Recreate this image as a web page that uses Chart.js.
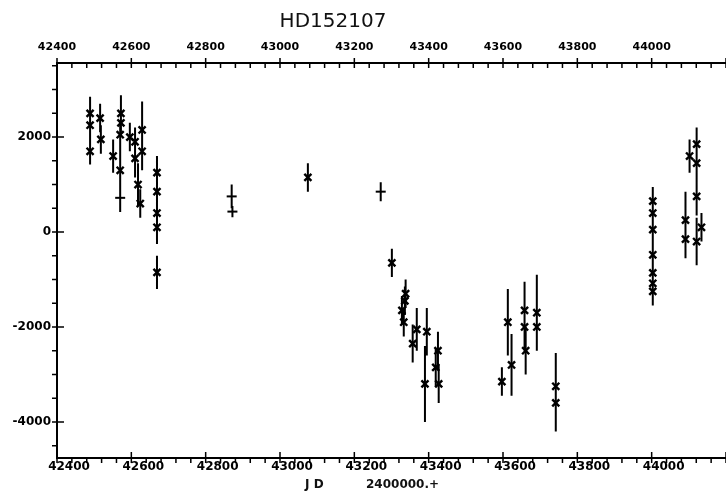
<!DOCTYPE html>
<html>
<head>
<meta charset="utf-8">
<script src="https://cdn.jsdelivr.net/npm/chart.js@4"></script>
<style>
html, body { margin: 0; padding: 0; background: #fff; }
</style>
</head>
<body>
<canvas id="rv" width="726" height="495"></canvas>
<script>
const xTicks = [42400, 42600, 42800, 43000, 43200, 43400, 43600, 43800, 44000]
const yTicks = [2000, 0, -2000, -4000]

// asterisk points: JD - 2400000, radial velocity, error half-length
const starJd = [42489, 42489, 42489, 42516, 42518, 42551, 42572, 42572, 42570, 42570, 42596,
    42610, 42610, 42618, 42629, 42629, 42624, 42669, 42669, 42669, 42669, 42669,
    43075,
    43301, 43338, 43336, 43328, 43333, 43368, 43357, 43395, 43390, 43425, 43419, 43427,
    43597, 43623, 43613, 43658, 43658, 43661, 43691, 43691, 43742, 43742,
    44003, 44003, 44003, 44003, 44003, 44003, 44003,
    44091, 44091, 44102, 44121, 44121, 44121, 44121, 44134]
const starRv = [2500, 2250, 1700, 2400, 1950, 1600, 2500, 2300, 2050, 1300, 2000,
    1550, 1900, 1000, 2150, 1700, 600, 1250, 850, 400, 100, -850,
    1150,
    -650, -1300, -1450, -1650, -1900, -2050, -2350, -2100, -3200, -2500, -2850, -3200,
    -3150, -2800, -1900, -1650, -2000, -2500, -1700, -2000, -3250, -3600,
    650, 400, 50, -480, -860, -1080, -1250,
    250, -150, 1600, 1850, 1450, 750, -200, 100]
const starErr = [350, 300, 280, 300, 300, 350, 380, 300, 300, 600, 300,
    400, 300, 450, 600, 400, 300, 350, 350, 300, 350, 350,
    300,
    300, 300, 300, 300, 300, 450, 400, 500, 800, 400, 400, 400,
    300, 650, 700, 600, 500, 500, 800, 500, 700, 600,
    300, 300, 300, 300, 300, 300, 300,
    600, 400, 350, 350, 350, 400, 500, 300]

// "+" points
const plusJd = [42570, 42870, 42872, 43271]
const plusRv = [720, 750, 430, 850]
const plusErr = [300, 250, 120, 200]

function points(jd, rv) {
    return jd.map((x, i) => ({ x: x, y: rv[i] }))
}

function errorBars(jd, rv, err) {
    const out = []
    jd.forEach((x, i) => {
        out.push({ x: x, y: rv[i] - err[i] }, { x: x, y: rv[i] + err[i] }, { x: x, y: null })
    })
    return out
}

const labelFont = { family: 'DejaVu Sans', size: 12, weight: 'bold' }

const tickMarks = {
    id: 'tickMarks',
    afterDraw(chart) {
        const ctx = chart.ctx
        const a = chart.chartArea
        const x = chart.scales.x
        const y = chart.scales.y
        ctx.save()
        ctx.strokeStyle = '#000'
        ctx.lineWidth = 1.5
        ctx.beginPath()
        for (let v = 42400; v <= 44200; v += 40) {
            const px = x.getPixelForValue(v)
            const major = v % 200 === 0
            ctx.moveTo(px, major ? a.bottom - 6 : a.bottom)
            ctx.lineTo(px, a.bottom + 5)
            ctx.moveTo(px, major ? a.top - 5 : a.top)
            ctx.lineTo(px, a.top + 5)
        }
        for (let v = -4500; v <= 3500; v += 500) {
            const py = y.getPixelForValue(v)
            const major = v % 2000 === 0
            ctx.moveTo(a.left - 5, py)
            ctx.lineTo(major ? a.left + 7 : a.left, py)
        }
        ctx.stroke()

        ctx.fillStyle = '#111'
        ctx.textBaseline = 'middle'
        ctx.textAlign = 'center'
        ctx.font = '20px "DejaVu Sans"'
        ctx.fillText('HD152107', 333, 22)
        ctx.textAlign = 'left'
        ctx.font = 'bold 12px "DejaVu Sans"'
        ctx.fillText('J D', 305, 485)
        ctx.fillText('2400000.+', 366, 485)
        ctx.restore()
    }
}

new Chart(document.getElementById('rv').getContext('2d'), {
    type: 'scatter',
    data: {
        datasets: [
            {
                label: 'errors',
                data: errorBars(starJd.concat(plusJd), starRv.concat(plusRv), starErr.concat(plusErr)),
                showLine: true,
                spanGaps: false,
                borderColor: '#000',
                borderWidth: 2,
                pointRadius: 0
            },
            {
                label: 'RV',
                data: points(starJd, starRv),
                pointStyle: 'crossRot',
                pointRadius: 5,
                borderColor: '#000',
                borderWidth: 2.4
            },
            {
                label: 'RV +',
                data: points(plusJd, plusRv),
                pointStyle: 'line',
                pointRadius: 5,
                borderColor: '#000',
                borderWidth: 2
            }
        ]
    },
    options: {
        responsive: false,
        animation: false,
        layout: { autoPadding: false, padding: { top: 36, right: 0, bottom: 0, left: 0 } },
        plugins: {
            legend: { display: false },
            tooltip: { enabled: false },
            title: { display: false }
        },
        scales: {
            x: {
                type: 'linear',
                position: 'bottom',
                min: 42400,
                max: 44200,
                afterBuildTicks: s => { s.ticks = xTicks.map(v => ({ value: v })) },
                afterFit: s => { s.height = 37 },
                grid: { display: false, drawTicks: false },
                border: { display: true, color: '#000', width: 2 },
                ticks: {
                    color: '#000',
                    font: labelFont,
                    padding: 2,
                    labelOffset: 12,
                    maxRotation: 0,
                    autoSkip: false,
                    callback: v => String(v)
                }
            },
            x2: {
                type: 'linear',
                position: 'top',
                min: 42400,
                max: 44200,
                afterBuildTicks: s => { s.ticks = xTicks.map(v => ({ value: v })) },
                afterFit: s => { s.height = 27 },
                grid: { display: false, drawTicks: false },
                border: { display: true, color: '#000', width: 2 },
                ticks: {
                    color: '#000',
                    font: { family: 'DejaVu Sans', size: 11, weight: 'bold' },
                    padding: 9,
                    maxRotation: 0,
                    autoSkip: false,
                    callback: v => String(v)
                }
            },
            y: {
                type: 'linear',
                min: -4760,
                max: 3560,
                afterBuildTicks: s => { s.ticks = yTicks.map(v => ({ value: v })) },
                afterFit: s => { s.width = 57 },
                grid: { display: false, drawTicks: false },
                border: { display: true, color: '#000', width: 2 },
                ticks: {
                    color: '#000',
                    font: labelFont,
                    padding: 6,
                    callback: v => String(v)
                }
            }
        }
    },
    plugins: [tickMarks]
})
</script>
</body>
</html>
